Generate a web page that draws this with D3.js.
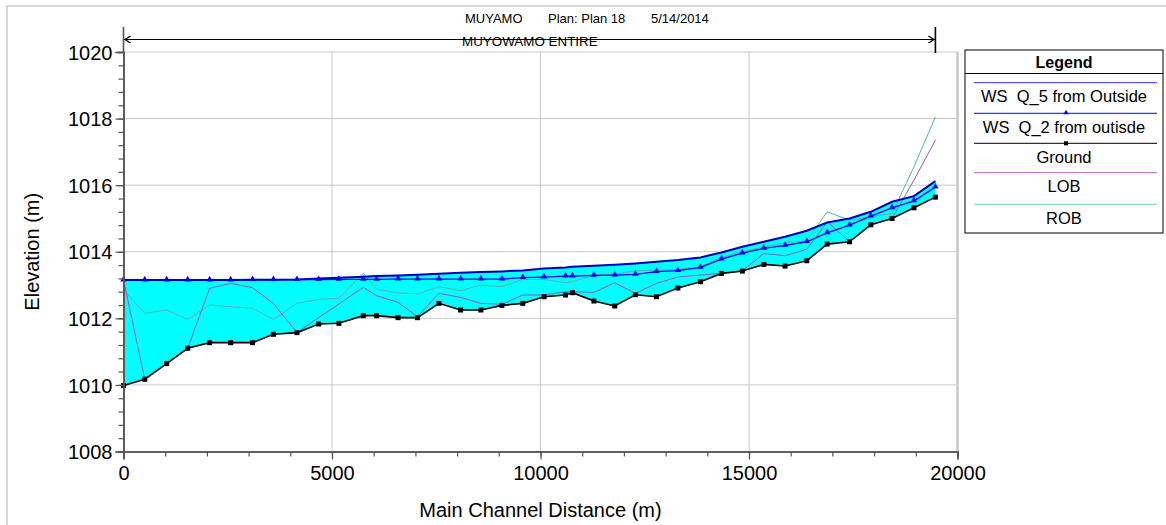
<!DOCTYPE html>
<html>
<head>
<meta charset="utf-8">
<script src="https://cdn.jsdelivr.net/npm/d3@7"></script>
<style>
  body { margin: 0; background: #fff; }
  svg { display: block; font-family: "Liberation Sans", Arial, sans-serif; }
  text { white-space: pre; }
</style>
</head>
<body>
<svg id="chart" width="1166" height="525"></svg>
<script>
// River stations along the main channel (m)
const stations = [0, 510, 1035, 1540, 2065, 2570, 3095, 3595, 4160, 4680,
  5165, 5750, 6070, 6585, 7050, 7565, 8085, 8570, 9075, 9575,
  10085, 10600, 10765, 11280, 11780, 12275, 12780, 13295, 13835, 14340,
  14840, 15355, 15865, 16385, 16875, 17410, 17920, 18430, 18955, 19470];

// Channel invert (m)
const ground = [1009.98, 1010.17, 1010.64, 1011.10, 1011.27, 1011.27, 1011.27, 1011.52, 1011.57, 1011.83,
  1011.85, 1012.08, 1012.08, 1012.02, 1012.02, 1012.45, 1012.25, 1012.25, 1012.39, 1012.45,
  1012.65, 1012.70, 1012.77, 1012.52, 1012.37, 1012.71, 1012.65, 1012.91, 1013.10, 1013.35,
  1013.42, 1013.62, 1013.57, 1013.73, 1014.23, 1014.30, 1014.81, 1015.00, 1015.32, 1015.64];

// Water surface, Q_5 profile (m)
const wsQ5 = [1013.15, 1013.15, 1013.15, 1013.15, 1013.15, 1013.15, 1013.16, 1013.16, 1013.17, 1013.20,
  1013.22, 1013.25, 1013.27, 1013.29, 1013.31, 1013.34, 1013.37, 1013.39, 1013.41, 1013.44,
  1013.50, 1013.53, 1013.55, 1013.58, 1013.61, 1013.65, 1013.70, 1013.75, 1013.83, 1013.98,
  1014.15, 1014.30, 1014.45, 1014.63, 1014.88, 1015.00, 1015.20, 1015.50, 1015.67, 1016.12];

// Water surface, Q_2 profile (m)
const wsQ2 = [1013.15, 1013.15, 1013.15, 1013.15, 1013.15, 1013.15, 1013.16, 1013.16, 1013.16, 1013.16,
  1013.17, 1013.17, 1013.17, 1013.18, 1013.18, 1013.18, 1013.18, 1013.18, 1013.18, 1013.22,
  1013.24, 1013.27, 1013.27, 1013.29, 1013.30, 1013.32, 1013.40, 1013.43, 1013.53, 1013.78,
  1013.96, 1014.10, 1014.19, 1014.30, 1014.57, 1014.80, 1015.07, 1015.32, 1015.53, 1015.94];

// Left overbank station elevations (m)
const lob = [1013.15, 1010.17, 1010.64, 1011.10, 1012.90, 1013.05, 1012.92, 1012.45, 1011.57, 1012.02,
  1012.43, 1012.93, 1012.68, 1012.48, 1012.05, 1012.75, 1012.63, 1012.45, 1012.42, 1012.70,
  1012.70, 1012.80, 1012.80, 1012.78, 1013.07, 1012.75, 1013.05, 1013.24, 1013.30, 1013.35,
  1013.42, 1013.95, 1013.88, 1014.07, 1014.90, 1014.30, 1014.81, 1015.00, 1016.15, 1017.35];

// Right overbank station elevations (m)
const rob = [1012.85, 1012.15, 1012.25, 1011.97, 1012.40, 1012.35, 1012.30, 1011.97, 1012.45, 1012.57,
  1012.60, 1013.35, 1012.87, 1012.77, 1012.73, 1012.95, 1012.83, 1013.00, 1012.95, 1013.17,
  1013.17, 1013.07, 1013.10, 1013.30, 1013.32, 1013.43, 1013.45, 1013.47, 1013.55, 1013.83,
  1014.00, 1014.15, 1014.27, 1014.33, 1015.20, 1014.95, 1015.05, 1015.15, 1016.55, 1018.05];

const xMajorTicks = [0, 5000, 10000, 15000, 20000];
const xMinorTicks = d3.range(0, 20001, 1000);
const yMajorTicks = [1008, 1010, 1012, 1014, 1016, 1018, 1020];
const yMinorTicks = d3.range(0, 31).map(i => 1008 + i * 0.4);

const titleParts = ["MUYAMO", "Plan: Plan 18", "5/14/2014"];
const reachName = "MUYOWAMO ENTIRE";
const legendTitle = "Legend";
const legendLabels = ["WS  Q_5 from Outside", "WS  Q_2 from outisde", "Ground", "LOB", "ROB"];

const svg = d3.select("#chart");
const x = d3.scaleLinear().domain([0, 20000]).range([123.5, 957.5]);
const y = d3.scaleLinear().domain([1008, 1020]).range([451.5, 52]);

const C = {
  grid: "#c8c8c8", axis: "#555", q5: "#0000c0", q2: "#0000ff",
  ground: "#000", lob: "#8c5cb4", rob: "#4fb3b3", fill: "#00ffff"
};

// Outer frame
svg.append("rect").attr("x", 7).attr("y", 6).attr("width", 1200).attr("height", 600)
  .attr("fill", "none").attr("stroke", "#b0b0b0").attr("stroke-width", 1);

// Gridlines
svg.append("g").selectAll("line").data(yMajorTicks.slice(1)).join("line")
  .attr("x1", x(0)).attr("x2", x(20000))
  .attr("y1", d => y(d)).attr("y2", d => y(d))
  .attr("stroke", C.grid).attr("stroke-width", 1);
svg.append("g").selectAll("line").data(xMajorTicks.slice(1)).join("line")
  .attr("x1", d => x(d)).attr("x2", d => x(d))
  .attr("y1", y(1008)).attr("y2", y(1020))
  .attr("stroke", C.grid).attr("stroke-width", d => d === 20000 ? 2.5 : 1);

const pts = stations.map((s, i) => ({ s, g: ground[i], q5: wsQ5[i], q2: wsQ2[i], l: lob[i], r: rob[i] }));

// Water between ground and Q_5 surface
svg.append("path").datum(pts)
  .attr("d", d3.area().x(d => x(d.s)).y0(d => y(d.g)).y1(d => y(d.q5)))
  .attr("fill", C.fill).attr("stroke", "none");

const line = key => d3.line().x(d => x(d.s)).y(d => y(d[key]));

svg.append("path").datum(pts).attr("d", line("r"))
  .attr("fill", "none").attr("stroke", C.rob).attr("stroke-width", 1);
svg.append("path").datum(pts).attr("d", line("l"))
  .attr("fill", "none").attr("stroke", C.lob).attr("stroke-width", 1);
svg.append("path").datum(pts).attr("d", line("g"))
  .attr("fill", "none").attr("stroke", C.ground).attr("stroke-width", 1.6);
svg.append("path").datum(pts).attr("d", line("q2"))
  .attr("fill", "none").attr("stroke", C.q2).attr("stroke-width", 1.3);
svg.append("path").datum(pts).attr("d", line("q5"))
  .attr("fill", "none").attr("stroke", C.q5).attr("stroke-width", 2);

// Markers
const tri = d3.symbol().type(d3.symbolTriangle).size(18);
svg.append("g").selectAll("path").data(pts).join("path")
  .attr("d", tri).attr("transform", d => `translate(${x(d.s)},${y(d.q2) - 0.5})`)
  .attr("fill", C.q2);
svg.append("g").selectAll("rect").data(pts).join("rect")
  .attr("x", d => x(d.s) - 2.5).attr("y", d => y(d.g) - 2.5)
  .attr("width", 5).attr("height", 5).attr("fill", C.ground);

// Axes
const yMinorAxis = d3.axisLeft(y).tickValues(yMinorTicks).tickSize(5).tickFormat("");
const yMajorAxis = d3.axisLeft(y).tickValues(yMajorTicks).tickSize(8).tickPadding(3).tickFormat(d3.format("d"));
const xMinorAxis = d3.axisBottom(x).tickValues(xMinorTicks).tickSize(5).tickFormat("");
const xMajorAxis = d3.axisBottom(x).tickValues(xMajorTicks).tickSize(8).tickPadding(3).tickFormat(d3.format("d"));

function styleAxis(g) {
  g.select(".domain").attr("stroke", C.axis).attr("stroke-width", 1.6);
  g.selectAll(".tick line").attr("stroke", C.axis).attr("stroke-width", 1.2);
  g.selectAll(".tick text").attr("fill", "#000").style("font-size", "20px")
    .style("font-family", "'Liberation Sans', Arial, sans-serif");
}
svg.append("g").attr("transform", `translate(${x(0)},0)`).call(yMinorAxis).call(styleAxis);
svg.append("g").attr("transform", `translate(${x(0)},0)`).call(yMajorAxis).call(styleAxis)
  .selectAll(".tick text").attr("dy", "0.36em");
svg.append("g").attr("transform", `translate(0,${y(1008)})`).call(xMinorAxis).call(styleAxis);
svg.append("g").attr("transform", `translate(0,${y(1008)})`).call(xMajorAxis).call(styleAxis)
  .selectAll(".tick text").attr("dy", "0.85em");

// Axis titles
svg.append("text").attr("x", (x(0) + x(20000)) / 2).attr("y", 517)
  .attr("text-anchor", "middle").style("font-size", "20px").text("Main Channel Distance (m)");
svg.append("text").attr("transform", `translate(39,${(y(1008) + y(1020)) / 2}) rotate(-90)`)
  .attr("text-anchor", "middle").style("font-size", "20px").text("Elevation (m)");

// Title line
const titleX = [465, 548, 651];
svg.append("g").selectAll("text").data(titleParts).join("text")
  .attr("x", (d, i) => titleX[i]).attr("y", 22.5)
  .style("font-size", "13px").text(d => d);

// Reach extent marker
const reachY = 39.5;
const xa = x(stations[0]), xb = x(stations[stations.length - 1]);
svg.append("line").attr("x1", xa).attr("x2", xb).attr("y1", reachY).attr("y2", reachY)
  .attr("stroke", "#000").attr("stroke-width", 1);
svg.append("line").attr("x1", xa).attr("x2", xa).attr("y1", 27).attr("y2", y(1020))
  .attr("stroke", C.axis).attr("stroke-width", 1.6);
svg.append("line").attr("x1", xb).attr("x2", xb).attr("y1", 27).attr("y2", 53)
  .attr("stroke", "#000").attr("stroke-width", 1.6);
svg.append("path").attr("d", `M${xa + 7},${reachY - 3.5}L${xa + 1.5},${reachY}L${xa + 7},${reachY + 3.5}`)
  .attr("fill", "none").attr("stroke", "#000").attr("stroke-width", 1.3);
svg.append("path").attr("d", `M${xb - 7},${reachY - 3.5}L${xb - 1.5},${reachY}L${xb - 7},${reachY + 3.5}`)
  .attr("fill", "none").attr("stroke", "#000").attr("stroke-width", 1.3);
svg.append("text").attr("x", 462).attr("y", 46).style("font-size", "13.4px").text(reachName);

// Legend
const lg = svg.append("g");
const lx0 = 965, lx1 = 1163, ly0 = 50, ly1 = 233;
lg.append("rect").attr("x", lx0).attr("y", ly0).attr("width", lx1 - lx0).attr("height", ly1 - ly0)
  .attr("fill", "#fff").attr("stroke", "#000").attr("stroke-width", 1);
lg.append("line").attr("x1", lx0).attr("x2", lx1).attr("y1", 73.5).attr("y2", 73.5)
  .attr("stroke", "#000").attr("stroke-width", 1);
lg.append("text").attr("x", (lx0 + lx1) / 2).attr("y", 67.5).attr("text-anchor", "middle")
  .style("font-size", "16px").style("font-weight", "bold").text(legendTitle);

const legendStyles = [
  { color: "#2a2aff", width: 1, marker: null },
  { color: C.q2, width: 1, marker: "tri" },
  { color: "#000", width: 1, marker: "sq" },
  { color: "#b060c8", width: 1, marker: null },
  { color: "#7cc8c8", width: 1, marker: null }
];
const legendLineY = [82.7, 113.3, 143.3, 172.7, 204.3];
const mx = 1066;
legendLabels.forEach((lab, i) => {
  const st = legendStyles[i];
  const ly = legendLineY[i];
  lg.append("line").attr("x1", 974).attr("x2", 1157).attr("y1", ly).attr("y2", ly)
    .attr("stroke", st.color).attr("stroke-width", st.width);
  if (st.marker === "tri") {
    lg.append("path").attr("d", d3.symbol().type(d3.symbolTriangle).size(12))
      .attr("transform", `translate(${mx},${ly - 0.5})`).attr("fill", st.color);
  } else if (st.marker === "sq") {
    lg.append("rect").attr("x", mx - 2).attr("y", ly - 2).attr("width", 4).attr("height", 4).attr("fill", "#000");
  }
  lg.append("text").attr("x", (lx0 + lx1) / 2).attr("y", ly + 19.5).attr("text-anchor", "middle")
    .style("font-size", "16.5px").text(lab);
});
</script>
</body>
</html>
